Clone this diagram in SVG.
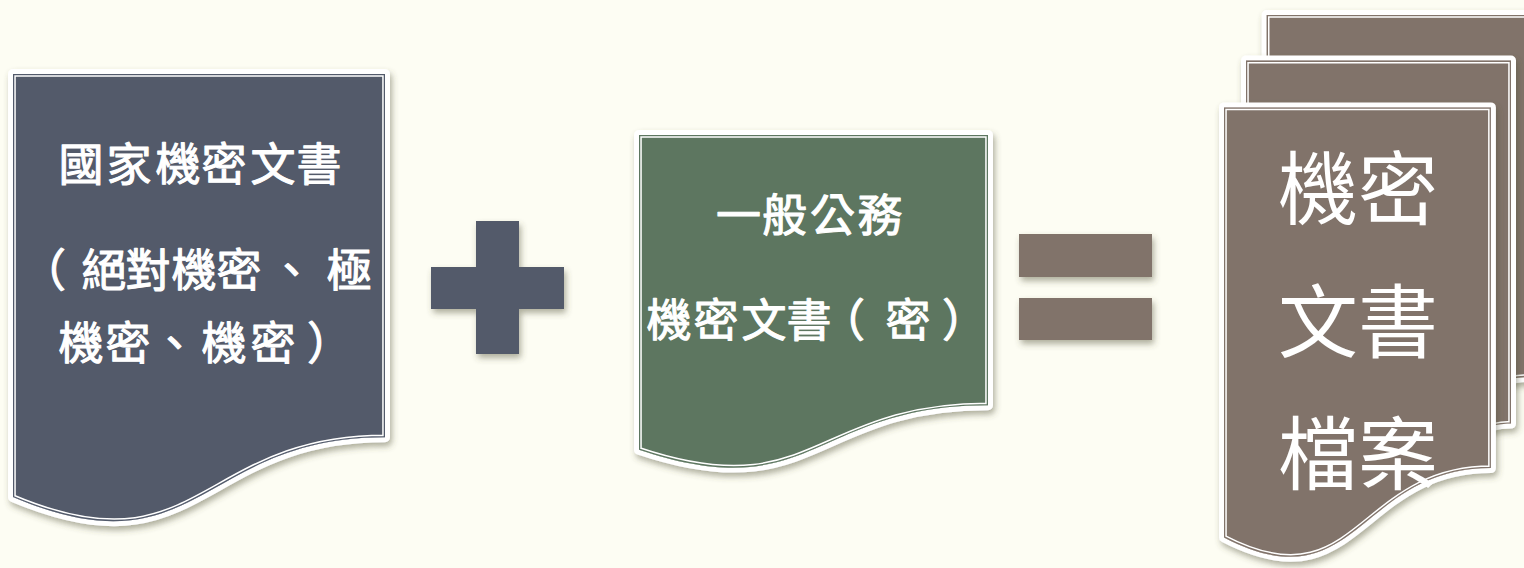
<svg xmlns="http://www.w3.org/2000/svg" xmlns:xlink="http://www.w3.org/1999/xlink" width="1524" height="568" viewBox="0 0 1524 568">
  <style>
    .band { stroke: #FFFFFF; stroke-width: 10; stroke-linejoin: round; paint-order: stroke; }
    .inw { fill: none; stroke: #FFFFFF; stroke-width: 5.6; }
    .inf { fill: none; stroke-width: 2.6; }
    .slate { fill: #525A6B; }
    .green { fill: #5D7660; }
    .brown { fill: #81736A; }
    .lbl { font-family: "Noto Sans CJK TC", "Noto Sans CJK SC", sans-serif; fill: #FFFFFF; }
    .lbl-b { font-size: 45px; font-weight: normal; stroke: #FFFFFF; stroke-width: 1.1; stroke-linejoin: round; }
    .lbl-big { font-size: 80px; font-weight: normal; text-anchor: middle; }
  </style>
  <defs>
    <filter id="shadow" x="-10%" y="-10%" width="125%" height="125%">
      <feDropShadow dx="2" dy="4" stdDeviation="3" flood-color="#4d4d33" flood-opacity="0.45"/>
    </filter>
    <path id="p1" d="M13,74 H385 V437.3 C199,437.3 199,575.7 13,497.1 Z"/>
    <path id="p2" d="M639,135 H988 V405.3 C813.5,405.3 813.5,508.2 639,449.7 Z"/>
    <path id="p3back" d="M1266.7,60.6 V15 H1534 V376.8 C1522.5,376.8 1511,378.7 1511,378.7 V60.6 Z"/>
    <path id="p3mid" d="M1246,107.4 V60.6 H1511 V423.6 C1501,423.6 1490.9,426.1 1490.9,426.1 V107.4 Z"/>
    <path id="p3front" d="M1224,107.4 H1490.9 V468.1 C1357.4,468.1 1357.4,606.8 1224,537.4 Z"/>
    <clipPath id="c1"><use xlink:href="#p1"/></clipPath>
    <clipPath id="c2"><use xlink:href="#p2"/></clipPath>
    <clipPath id="c3back"><use xlink:href="#p3back"/></clipPath>
    <clipPath id="c3mid"><use xlink:href="#p3mid"/></clipPath>
    <clipPath id="c3front"><use xlink:href="#p3front"/></clipPath>
  </defs>

  <rect x="0" y="0" width="1524" height="568" fill="#FDFDF3"/>

  <g id="connectors"></g>

  <g id="node-national-secret">
    <g filter="url(#shadow)">
      <use xlink:href="#p1" class="band slate"/>
    </g>
    <g clip-path="url(#c1)">
      <use xlink:href="#p1" class="inw"/>
      <use xlink:href="#p1" class="inf" stroke="#525A6B"/>
    </g>
    <text class="lbl lbl-b" x="58.5 106.5 155.5 201.5 250.5 296.5" y="181">國家機密文書</text>
    <text class="lbl lbl-b" x="21 81.5 125.5 171.5 216.5 269 326.5" y="287">（絕對機密、極</text>
    <text class="lbl lbl-b" x="58.5 105.5 152 201.5 250.5 307" y="360">機密、機密）</text>
  </g>

  <g id="op-plus" filter="url(#shadow)" class="slate">
    <rect x="476" y="221" width="43" height="133"/>
    <rect x="431" y="267" width="133" height="42"/>
  </g>

  <g id="node-general-secret">
    <g filter="url(#shadow)">
      <use xlink:href="#p2" class="band green"/>
    </g>
    <g clip-path="url(#c2)">
      <use xlink:href="#p2" class="inw"/>
      <use xlink:href="#p2" class="inf" stroke="#5D7660"/>
    </g>
    <text class="lbl lbl-b" x="716 762 810 857.5" y="232">一般公務</text>
    <text class="lbl lbl-b" x="646.5 693.5 741.5 786.5 820 885.5 942" y="337">機密文書（密）</text>
  </g>

  <g id="op-equals" filter="url(#shadow)" class="brown">
    <rect x="1019" y="234" width="133" height="43"/>
    <rect x="1019" y="298" width="133" height="42"/>
  </g>

  <g id="node-secret-archive">
    <g filter="url(#shadow)">
      <use xlink:href="#p3back" class="band brown"/>
    </g>
    <g clip-path="url(#c3back)">
      <use xlink:href="#p3back" class="inw"/>
      <use xlink:href="#p3back" class="inf" stroke="#81736A"/>
    </g>
    <g filter="url(#shadow)">
      <use xlink:href="#p3mid" class="band brown"/>
    </g>
    <g clip-path="url(#c3mid)">
      <use xlink:href="#p3mid" class="inw"/>
      <use xlink:href="#p3mid" class="inf" stroke="#81736A"/>
    </g>
    <g filter="url(#shadow)">
      <use xlink:href="#p3front" class="band brown"/>
    </g>
    <g clip-path="url(#c3front)">
      <use xlink:href="#p3front" class="inw"/>
      <use xlink:href="#p3front" class="inf" stroke="#81736A"/>
    </g>
    <text class="lbl lbl-big" x="1358" y="218">機密</text>
    <text class="lbl lbl-big" x="1358" y="351">文書</text>
    <text class="lbl lbl-big" x="1358" y="483">檔案</text>
  </g>
</svg>
